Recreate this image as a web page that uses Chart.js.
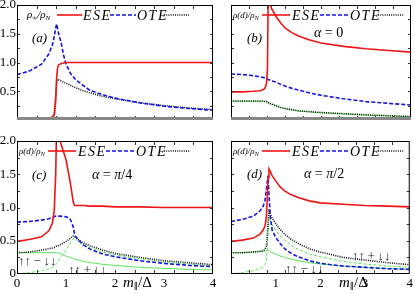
<!DOCTYPE html>
<html lang="en">
<head>
<meta charset="UTF-8">
<title>rho(d)/rhoN panels</title>
<script src="https://cdn.jsdelivr.net/npm/chart.js"></script>
<style>
  body { margin: 0; background: #fff; }
  #wrap { position: relative; width: 415px; height: 294px; overflow: hidden; background: #fff; }
  .panel { position: absolute; }
</style>
</head>
<body>
<div id="wrap">
  <div class="panel" style="left:0;top:-6px;width:220px;height:160px"><canvas id="pa"></canvas></div>
  <div class="panel" style="left:214px;top:-6px;width:201px;height:160px"><canvas id="pb"></canvas></div>
  <div class="panel" style="left:0;top:130px;width:220px;height:164px"><canvas id="pc"></canvas></div>
  <div class="panel" style="left:200px;top:130px;width:215px;height:164px"><canvas id="pd"></canvas></div>
</div>
<script>
// ---- data ----
// (a) rho_inf / rho_N
const aX   = [0, 0.25, 0.5, 0.65, 0.72, 0.76, 0.79, 0.81, 0.83, 0.85, 0.9, 0.95, 1, 1.1, 1.2, 1.35, 1.5, 1.75, 2, 2.5, 3, 3.5, 4];
const aEse = [0.02, 0.02, 0.02, 0.03, 0.05, 0.1, 0.4, 0.75, 0.92, 0.96, 0.98, 0.99, 1, 1, 1, 1, 1, 1, 1, 1, 1, 1, 1];
const aOte = [0.79, 0.85, 0.97, 1.15, 1.3, 1.45, 1.6, 1.67, 1.58, 1.5, 1.35, 1.13, 0.97, 0.8, 0.7, 0.6, 0.51, 0.44, 0.38, 0.3, 0.24, 0.2, 0.17];
const aTot = [0.01, 0.01, 0.01, 0.01, 0.02, 0.05, 0.3, 0.65, 0.71, 0.7, 0.68, 0.66, 0.64, 0.6, 0.56, 0.51, 0.47, 0.41, 0.37, 0.3, 0.25, 0.21, 0.18];

// (b) alpha = 0
const bX     = [0, 0.25, 0.5, 0.65, 0.72, 0.76, 0.79, 0.81, 0.83, 0.85, 0.9, 1, 1.1, 1.2, 1.35, 1.5, 1.75, 2, 2.5, 3, 3.5, 4];
const bEse   = [0.49, 0.49, 0.5, 0.51, 0.53, 0.56, 0.64, 0.9, 2.4, 2.1, 1.94, 1.8, 1.69, 1.6, 1.52, 1.46, 1.39, 1.34, 1.28, 1.24, 1.21, 1.18];
const bOte   = [0.8, 0.79, 0.77, 0.75, 0.74, 0.73, 0.72, 0.71, 0.7, 0.7, 0.68, 0.66, 0.62, 0.59, 0.55, 0.52, 0.47, 0.43, 0.37, 0.32, 0.29, 0.26];
const bTot   = [0.33, 0.33, 0.33, 0.33, 0.33, 0.32, 0.32, 0.31, 0.3, 0.29, 0.28, 0.25, 0.22, 0.2, 0.18, 0.16, 0.145, 0.13, 0.11, 0.09, 0.075, 0.06];
const bMinus = [0.325, 0.325, 0.325, 0.325, 0.325, 0.315, 0.315, 0.305, 0.295, 0.285, 0.275, 0.245, 0.215, 0.195, 0.175, 0.155, 0.14, 0.125, 0.105, 0.085, 0.07, 0.055];

// (c) alpha = pi/4
const cX     = [0, 0.25, 0.5, 0.65, 0.72, 0.76, 0.79, 0.81, 0.83, 0.88, 1, 1.08, 1.12, 1.15, 1.18, 1.25, 1.35, 1.5, 1.75, 2, 2.5, 3, 3.5, 4];
const cEse   = [0.49, 0.52, 0.56, 0.65, 0.76, 0.95, 1.5, 2.3, 2.3, 2.0, 1.72, 1.4, 1.22, 1.07, 1.03, 1.03, 1.03, 1.02, 1.02, 1.01, 1.01, 1.0, 1.0, 1.0];
const cOte   = [0.78, 0.79, 0.81, 0.83, 0.85, 0.86, 0.87, 0.87, 0.87, 0.87, 0.86, 0.83, 0.77, 0.7, 0.58, 0.51, 0.44, 0.37, 0.3, 0.26, 0.2, 0.16, 0.13, 0.11];
const cTot   = [0.32, 0.33, 0.36, 0.38, 0.39, 0.4, 0.41, 0.42, 0.42, 0.44, 0.49, 0.53, 0.56, 0.57, 0.56, 0.52, 0.47, 0.42, 0.36, 0.31, 0.25, 0.2, 0.17, 0.14];
const cMinus = [0.32, 0.32, 0.32, 0.32, 0.32, 0.32, 0.32, 0.32, 0.32, 0.31, 0.27, 0.25, 0.24, 0.23, 0.22, 0.21, 0.19, 0.17, 0.145, 0.13, 0.1, 0.085, 0.07, 0.06];
const cPlus  = [0, 0.02, 0.05, 0.08, 0.1, 0.12, 0.14, 0.16, 0.18, 0.24, 0.36, 0.45, 0.5, 0.53, 0.53, 0.49, 0.44, 0.39, 0.33, 0.29, 0.23, 0.18, 0.15, 0.12];

// (d) alpha = pi/2
const dX     = [0, 0.25, 0.5, 0.65, 0.72, 0.76, 0.79, 0.81, 0.83, 0.85, 0.88, 0.92, 1, 1.1, 1.2, 1.35, 1.5, 1.75, 2, 2.5, 3, 3.5, 4];
const dEse   = [0.49, 0.51, 0.54, 0.6, 0.66, 0.72, 0.85, 1.1, 1.45, 1.58, 1.54, 1.48, 1.4, 1.31, 1.25, 1.19, 1.15, 1.1, 1.07, 1.05, 1.03, 1.02, 1.01];
const dOte   = [0.79, 0.82, 0.87, 0.95, 1.02, 1.1, 1.25, 1.38, 1.48, 1.2, 0.85, 0.66, 0.55, 0.46, 0.38, 0.31, 0.26, 0.2, 0.16, 0.12, 0.1, 0.08, 0.07];
const dTot   = [0.32, 0.32, 0.33, 0.34, 0.35, 0.37, 0.42, 0.55, 0.8, 0.94, 0.9, 0.84, 0.76, 0.67, 0.6, 0.52, 0.46, 0.38, 0.33, 0.25, 0.21, 0.17, 0.14];
const dMinus = [0.32, 0.32, 0.33, 0.34, 0.34, 0.35, 0.35, 0.36, 0.36, 0.36, 0.34, 0.32, 0.3, 0.27, 0.25, 0.22, 0.2, 0.17, 0.15, 0.12, 0.1, 0.08, 0.07];
const dPlus  = [0, 0.02, 0.05, 0.08, 0.11, 0.14, 0.2, 0.35, 0.6, 0.85, 0.8, 0.74, 0.66, 0.57, 0.51, 0.43, 0.37, 0.3, 0.26, 0.19, 0.15, 0.12, 0.1];

const xTicks = [0, 1, 2, 3, 4];
const yTicks = [0, 0.5, 1, 1.5, 2];

// ---- styles ----
const SERIF = '"Liberation Serif", "DejaVu Serif", serif';
const st = {
  ese:   { borderColor: 'rgb(240,20,20)', borderWidth: 1.6, borderDash: [] },
  ote:   { borderColor: 'rgb(20,20,230)', borderWidth: 1.6, borderDash: [4, 2] },
  tot:   { borderColor: '#111', borderWidth: 1.6, borderDash: [1, 1.2] },
  minus: { borderColor: 'rgb(90,230,90)', borderWidth: 1, borderDash: [] },
  plus:  { borderColor: 'rgb(90,230,90)', borderWidth: 1, borderDash: [3, 2] }
};

function rich(ctx, x, y, parts) {
  parts.forEach(([t, size, style, dy, fam]) => {
    ctx.font = (style || 'normal') + ' ' + size + 'px ' + (fam || SERIF);
    ctx.fillText(t, x, y + (dy || 0));
    x += ctx.measureText(t).width;
  });
  return x;
}

function sample(ctx, x0, x1, y, s) {
  ctx.strokeStyle = s.borderColor;
  ctx.lineWidth = s.borderWidth;
  ctx.setLineDash(s.borderDash);
  ctx.beginPath(); ctx.moveTo(x0, y); ctx.lineTo(x1, y); ctx.stroke();
  ctx.setLineDash([]);
}

const rhoInf = [['ρ', 11, 'italic'], ['∞', 7, 'normal', 2], ['/ρ', 11, 'italic'], ['N', 7, 'italic', 2]];
const rhoD = [['ρ(d)/ρ', 9, 'italic'], ['N', 6, 'italic', 2]];

// frame, inward ticks, legend and labels
const decor = {
  id: 'decor',
  afterDatasetsDraw(chart, args, o) {
    const { ctx, chartArea: a, scales: { x, y } } = chart;
    ctx.save();
    ctx.strokeStyle = '#333'; ctx.lineWidth = 1;
    ctx.beginPath();
    for (let k = 1; k < 10; k++) {
      const px = Math.round(x.getPixelForValue(k * 0.4)) + 0.5;
      ctx.moveTo(px, a.top); ctx.lineTo(px, a.top + 4);
      ctx.moveTo(px, a.bottom); ctx.lineTo(px, a.bottom - 4);
    }
    for (let k = 1; k < 8; k++) {
      const py = Math.round(y.getPixelForValue(k * 0.25)) + 0.5;
      ctx.moveTo(a.left, py); ctx.lineTo(a.left + 3, py);
      ctx.moveTo(a.right, py); ctx.lineTo(a.right - 3, py);
    }
    ctx.stroke();
    ctx.strokeStyle = '#000'; ctx.lineWidth = 1;
    ctx.strokeRect(a.left + 0.5, a.top + 0.5, a.width - 1, a.height - 1);
    if (o.grayBase) {
      ctx.strokeStyle = '#888'; ctx.lineWidth = 3;
      ctx.beginPath(); ctx.moveTo(a.left, a.bottom - 1.5); ctx.lineTo(a.right, a.bottom - 1.5); ctx.stroke();
    }

    // legend
    const L = o.legend, lx = a.left, ly = a.top;
    ctx.fillStyle = '#000'; ctx.textBaseline = 'alphabetic';
    rich(ctx, lx + L.rhoX, ly + 13, L.rho);
    sample(ctx, lx + L.red[0], lx + L.red[1], ly + 10, st.ese);
    ctx.letterSpacing = '1.5px';
    rich(ctx, lx + L.ese, ly + 15, [['ESE', 14, 'italic']]);
    rich(ctx, lx + L.ote, ly + 15, [['OTE', 14, 'italic']]);
    ctx.letterSpacing = '0px';
    sample(ctx, lx + L.blue[0], lx + L.blue[1], ly + 10, st.ote);
    sample(ctx, lx + L.dot[0], lx + L.dot[1], ly + 10, st.tot);

    (o.labels || []).forEach(l => {
      ctx.fillStyle = l.color || '#000';
      rich(ctx, lx + l.x, ly + l.y, l.t);
    });
    if (o.xTitle) {
      ctx.fillStyle = '#000';
      rich(ctx, lx + o.xTitle, a.bottom + 13,
        [['m', 15, 'italic'], ['∥', 9, 'normal', 2], ['/Δ', 15, 'normal']]);
    }
    ctx.restore();
  }
};

const legendA = { rho: rhoInf, rhoX: 10, red: [40, 65], ese: 66, blue: [93, 119], ote: 120, dot: [147, 172] };
const legendD = { rho: rhoD, rhoX: 2, red: [31, 59], ese: 61, blue: [89, 117], ote: 119, dot: [147, 173] };
const arrows = (s) => [['↑↑\u2009' + s + '\u2009↓↓', 13, 'normal']];

function series(xs, ys, s) {
  return Object.assign({
    data: xs.map((x, i) => ({ x: x, y: ys[i] })),
    pointRadius: 0, tension: 0, fill: false, clip: 0
  }, s);
}

function panel(id, p) {
  return new Chart(document.getElementById(id), {
    type: 'line',
    data: { datasets: p.datasets },
    options: {
      animation: false, responsive: true, maintainAspectRatio: false,
      layout: { padding: p.pad },
      plugins: { legend: { display: false }, tooltip: { enabled: false }, decor: p.decor },
      scales: {
        x: {
          type: 'linear', min: 0, max: 4, display: p.showX,
          grid: { display: false, drawTicks: false }, border: { display: false },
          afterBuildTicks: s => { s.ticks = xTicks.map(v => ({ value: v })); },
          afterFit: s => { s.height = 20; },
          ticks: {
            padding: 2, color: '#000', font: { family: SERIF, size: 13 },
            callback: v => (p.hideX0 && v === 0) ? '' : String(v)
          }
        },
        y: {
          min: 0, max: 2, display: p.showY,
          grid: { display: false, drawTicks: false }, border: { display: false },
          afterBuildTicks: s => { s.ticks = yTicks.map(v => ({ value: v })); },
          afterFit: s => { s.width = 17; },
          ticks: {
            padding: 1, color: '#000', font: { family: SERIF, size: 13 },
            callback: v => v === 0 ? (p.hideY0 ? '' : '0') : v.toFixed(1)
          }
        }
      }
    },
    plugins: [decor]
  });
}

panel('pa', {
  pad: { top: 11, right: 7, bottom: 14, left: 0 }, showX: false, showY: true, hideY0: true,
  datasets: [series(aX, aEse, st.ese), series(aX, aOte, st.ote), series(aX, aTot, st.tot)],
  decor: { grayBase: true, legend: legendA,
    labels: [{ x: 15, y: 37, t: [['(a)', 13, 'italic']] }] }
});

panel('pb', {
  pad: { top: 11, right: 4, bottom: 14, left: 0 }, showX: false, showY: false,
  datasets: [series(bX, bEse, st.ese), series(bX, bOte, st.ote), series(bX, bTot, st.tot), series(bX, bMinus, st.minus)],
  decor: { grayBase: true, legend: legendD,
    labels: [{ x: 16, y: 37, t: [['(b)', 13, 'italic']] },
             { x: 83, y: 32, t: [['α', 14, 'italic'], [' = 0', 14, 'normal']] }] }
});

panel('pc', {
  pad: { top: 11, right: 7, bottom: 0, left: 0 }, showX: true, showY: true,
  datasets: [series(cX, cEse, st.ese), series(cX, cOte, st.ote), series(cX, cTot, st.tot),
             series(cX, cMinus, st.minus), series(cX, cPlus, st.plus)],
  decor: { legend: legendD, xTitle: 106,
    labels: [{ x: 15, y: 38, t: [['(c)', 13, 'italic']] },
             { x: 75, y: 38, t: [['α', 14, 'italic'], [' = ', 14, 'normal'], ['π', 14, 'italic'], ['/4', 14, 'normal']] },
             { x: 1, y: 124, t: arrows('−'), color: '#222' },
             { x: 51, y: 133, t: arrows('+'), color: '#222' }] }
});

panel('pd', {
  pad: { top: 11, right: 4, bottom: 0, left: 14 }, showX: true, showY: false, hideX0: true,
  datasets: [series(dX, dEse, st.ese), series(dX, dOte, st.ote), series(dX, dTot, st.tot),
             series(dX, dMinus, st.minus), series(dX, dPlus, st.plus)],
  decor: { legend: legendD, xTitle: 108,
    labels: [{ x: 16, y: 37, t: [['(d)', 13, 'italic']] },
             { x: 73, y: 37, t: [['α', 14, 'italic'], [' = ', 14, 'normal'], ['π', 14, 'italic'], ['/2', 14, 'normal']] },
             { x: 121, y: 119, t: arrows('+'), color: '#222' },
             { x: 54, y: 132, t: arrows('−'), color: '#222' }] }
});
</script>
</body>
</html>
